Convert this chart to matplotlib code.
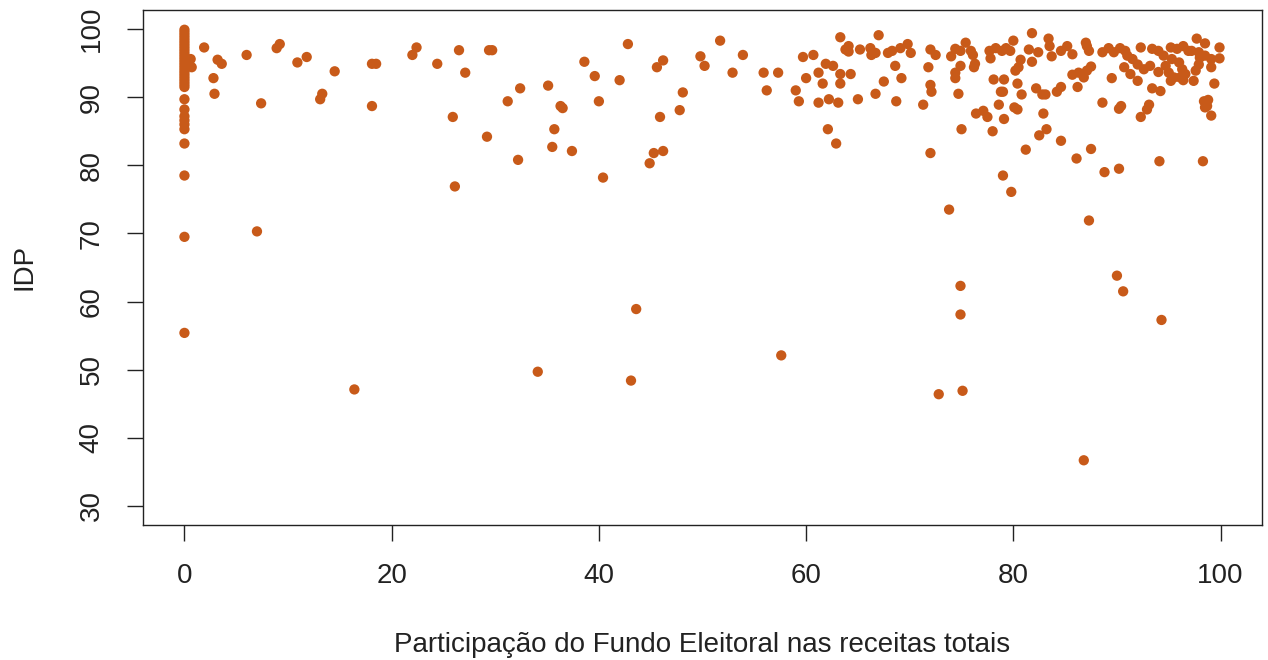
import matplotlib
matplotlib.use("Agg")
import matplotlib.pyplot as plt

plt.rcParams["font.family"] = ["Liberation Sans", "DejaVu Sans"]

# share of the electoral fund in total revenue (%), one entry per candidate
fundo_zero = [0.0] * 32
idp_zero = [99.9, 99.5, 99.1, 98.7, 98.3, 97.9, 97.5, 97.1, 96.7, 96.3, 95.9,
             95.5, 95.1, 94.7, 94.3, 93.9, 93.5, 93.1, 92.7, 92.3, 91.9, 91.5,
             89.7, 88.2, 87.2, 86.6, 86.0, 85.3, 83.2, 78.5, 69.5, 55.4]

fundo_low = [0.6, 0.7, 1.9, 3.2, 3.6, 2.8, 2.9, 6.0, 7.4, 7.0, 8.9, 9.2, 10.9,
             11.8, 13.1, 13.3, 14.5, 16.4, 18.1, 18.1, 18.5, 22.0, 22.4, 24.4,
             26.1, 25.9, 26.5, 27.1, 29.4, 29.7, 29.2, 31.2, 32.4, 32.2, 34.1,
             35.1, 36.3, 36.5, 35.7, 35.5, 37.4, 38.6, 39.6, 40.0, 40.4, 42.0,
             42.8, 43.1, 43.6, 44.9, 45.3, 46.2, 45.6, 46.2, 45.9, 47.8, 48.1,
             49.8, 50.2, 51.7, 52.9, 53.9, 55.9, 56.2, 57.3, 57.6]
idp_low = [95.6, 94.4, 97.3, 95.5, 94.9, 92.8, 90.5, 96.2, 89.1, 70.3, 97.2,
           97.8, 95.1, 95.9, 89.7, 90.5, 93.8, 47.1, 88.7, 94.9, 94.9, 96.2,
           97.3, 94.9, 76.9, 87.1, 96.9, 93.6, 96.9, 96.9, 84.2, 89.4, 91.3,
           80.8, 49.7, 91.7, 88.7, 88.4, 85.3, 82.7, 82.1, 95.2, 93.1, 89.4,
           78.2, 92.5, 97.8, 48.4, 58.9, 80.3, 81.8, 82.1, 94.4, 95.4, 87.1,
           88.1, 90.7, 96.0, 94.6, 98.3, 93.6, 96.2, 93.6, 91.0, 93.6, 52.1]

fundo_mid = [59.0, 59.3, 59.7, 60.7, 60.0, 61.2, 61.6, 61.2, 61.9, 62.6, 63.3,
             62.2, 63.1, 63.3, 63.3, 62.1, 62.9, 63.8, 64.1, 64.1, 64.3, 65.0,
             65.2, 66.2, 66.3, 66.7, 67.0, 66.7, 67.5, 67.9, 68.3, 68.6, 68.7,
             69.1, 69.8, 69.2, 70.1, 71.3, 71.8, 72.0, 72.5, 72.0, 72.1, 72.0,
             72.8, 73.8, 74.0, 74.4, 74.9, 74.4, 74.4, 74.9, 74.7, 75.0, 74.9,
             74.9, 75.1, 75.4, 75.9, 76.1, 76.3, 76.2, 76.4, 77.1, 77.5, 78.0,
             77.7, 78.3, 77.8, 78.1, 78.6, 78.8, 79.1, 79.0, 79.1, 78.9, 79.3,
             79.7, 80.0, 80.2, 80.1, 79.8, 80.7, 80.5, 79.0, 80.4, 80.8, 80.4]
idp_mid = [91.0, 89.4, 95.9, 96.2, 92.8, 93.6, 92.0, 89.2, 94.9, 94.6, 98.8,
           89.7, 89.2, 93.4, 92.0, 85.3, 83.2, 97.0, 96.7, 97.5, 93.4, 89.7,
           97.0, 97.2, 96.2, 96.5, 99.1, 90.5, 92.3, 96.5, 96.8, 94.6, 89.4,
           97.2, 97.8, 92.8, 96.5, 88.9, 94.4, 97.0, 96.2, 91.8, 90.8, 81.8,
           46.4, 73.5, 96.0, 97.1, 96.8, 93.6, 92.8, 94.6, 90.5, 85.3, 62.3,
           58.1, 46.9, 98.0, 96.8, 96.2, 94.9, 94.4, 87.6, 88.0, 87.1, 85.0,
           96.8, 97.2, 95.7, 92.6, 88.9, 90.8, 86.8, 78.5, 92.6, 96.8, 97.2,
           96.8, 98.3, 93.9, 88.5, 76.1, 95.5, 94.4, 90.8, 92.0, 90.4, 88.2]

fundo_high = [81.8, 81.5, 82.4, 81.8, 83.4, 83.5, 83.7, 82.2, 82.8, 83.1, 82.9,
              83.2, 82.5, 81.2, 84.6, 84.6, 85.2, 85.7, 84.2, 84.6, 85.7, 86.3,
              86.8, 87.1, 87.5, 86.2, 87.0, 87.3, 87.1, 88.6, 86.1, 87.5, 88.8,
              90.2, 87.3, 86.8, 88.6, 89.2, 89.7, 90.3, 90.8, 91.0, 89.5, 90.2,
              90.4, 90.7, 91.3, 92.0, 91.5, 92.3, 92.0, 92.6, 93.2, 92.3, 92.9,
              93.1, 90.0, 90.6, 93.4, 94.0, 94.5, 94.0, 93.4, 94.2, 94.1, 94.3,
              95.2, 95.8, 96.4, 96.9, 97.7, 98.5, 95.3, 96.0, 96.3, 96.6, 96.1,
              94.7, 95.0, 95.2, 95.5, 96.4, 97.4, 97.6, 97.9, 98.0, 97.2, 97.9,
              98.5, 99.1, 99.9, 99.9, 99.1, 99.4, 98.4, 98.8, 98.5, 99.1, 98.7,
              98.3]
idp_high = [99.4, 97.0, 96.6, 95.2, 98.6, 97.5, 96.0, 91.3, 90.4, 90.4, 87.6,
            85.3, 84.4, 82.3, 83.6, 96.8, 97.5, 96.3, 90.8, 91.5, 93.3, 93.6,
            92.9, 93.9, 94.5, 91.5, 98.0, 96.8, 97.5, 89.2, 81.0, 82.4, 79.0,
            79.5, 71.9, 36.7, 96.6, 97.2, 96.6, 97.2, 96.8, 96.1, 92.8, 88.3,
            88.7, 94.4, 93.4, 92.4, 95.6, 97.3, 94.8, 94.1, 94.6, 87.1, 88.2,
            88.9, 63.8, 61.5, 97.1, 96.8, 96.1, 93.7, 91.3, 90.9, 80.6, 57.3,
            97.3, 97.1, 97.5, 96.8, 98.6, 97.9, 95.6, 95.1, 94.1, 93.4, 92.9,
            94.6, 93.6, 92.4, 92.9, 92.5, 92.4, 93.9, 94.8, 95.8, 96.8, 96.6,
            96.1, 95.6, 97.3, 95.7, 94.4, 92.0, 89.4, 89.6, 88.5, 87.3, 88.7,
            80.6]

x_ticks = [0, 20, 40, 60, 80, 100]
y_ticks = [30, 40, 50, 60, 70, 80, 90, 100]

fundo = fundo_zero + fundo_low + fundo_mid + fundo_high
idp = idp_zero + idp_low + idp_mid + idp_high

fig = plt.figure(figsize=(12.68, 6.6), dpi=100)
ax = fig.add_axes([143 / 1268, 135 / 660, 1119 / 1268, 515 / 660])

ax.scatter(fundo, idp, s=55, color="#C85A19", edgecolors="none", zorder=3)

ax.set_xlim(-4, 104)
ax.set_ylim(27.2, 102.8)
ax.set_xticks(x_ticks)
ax.set_yticks(y_ticks)
ax.set_yticklabels([str(t) for t in y_ticks], rotation=90, va="center")

ax.tick_params(axis="both", direction="out", length=11.5, width=1.0,
               colors="#222222", labelsize=20, labelcolor="#222222", pad=16)
for spine in ax.spines.values():
    spine.set_linewidth(1.0)
    spine.set_color("#222222")

fig.text(702.5 / 1268, 1 - 645 / 660, "Participação do Fundo Eleitoral nas receitas totais",
         ha="center", va="center", fontsize=20, color="#222222")
fig.text(25 / 1268, 1 - 267 / 660, "IDP", ha="center", va="center",
         rotation=90, fontsize=20, color="#222222")

fig.savefig("out.png", dpi=100)
